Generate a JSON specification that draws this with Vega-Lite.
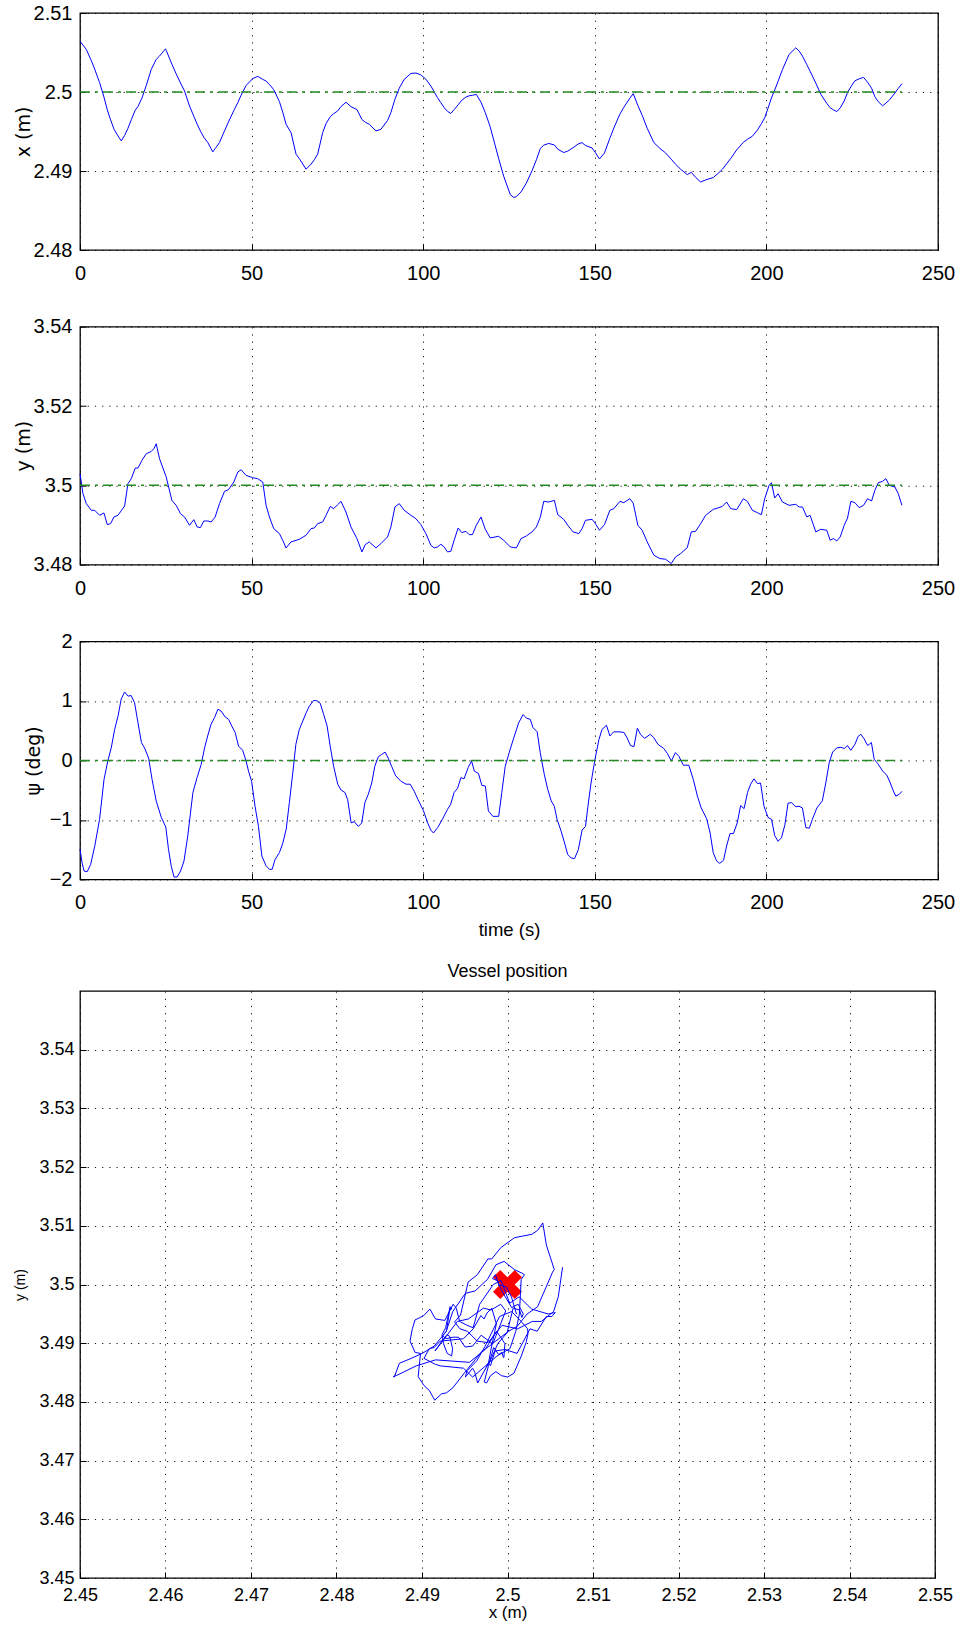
{
"$schema": "https://vega.github.io/schema/vega-lite/v6.json",
"background": "white",
"padding": {"left": 13, "top": 2, "right": 5, "bottom": 3},
"config": {
  "font": "Liberation Sans",
  "view": {"stroke": "#000", "strokeWidth": 1.3},
  "axis": {"grid": true, "gridColor": "#000", "gridDash": [1.2, 6], "gridWidth": 1, "gridOpacity": 0.9,
           "domain": false, "ticks": true, "tickColor": "#000", "tickSize": -6, "tickWidth": 1,
           "labelColor": "#000", "titleColor": "#000", "labelFlush": false, "labelOverlap": false,
           "titleFontWeight": "normal", "labelFont": "Liberation Sans", "titleFont": "Liberation Sans"},
  "concat": {"spacing": 21}
},
"datasets": {
"pos": [
{"t":0,"x":2.50644,"y":3.50294},{"t":0.87,"x":2.50594,"y":3.4979},{"t":1.84,"x":2.50539,"y":3.49539},{"t":3.3,"x":2.50396,"y":3.49371},{"t":4.27,"x":2.50291,"y":3.49371},{"t":5.72,"x":2.50118,"y":3.49245},{"t":6.98,"x":2.49936,"y":3.49304},{"t":7.95,"x":2.49774,"y":3.4901},{"t":8.92,"x":2.49647,"y":3.49035},{"t":9.89,"x":2.49531,"y":3.49203},{"t":11.06,"x":2.49444,"y":3.49245},{"t":12.03,"x":2.49381,"y":3.49362},{"t":13.0,"x":2.49451,"y":3.4948},{"t":13.97,"x":2.4954,"y":3.50042},{"t":14.94,"x":2.49648,"y":3.50168},{"t":16.1,"x":2.49771,"y":3.50436},{"t":16.88,"x":2.49816,"y":3.50436},{"t":18.04,"x":2.49923,"y":3.50629},{"t":19.3,"x":2.50081,"y":3.50797},{"t":20.76,"x":2.50286,"y":3.50856},{"t":21.53,"x":2.50353,"y":3.50923},{"t":22.21,"x":2.50413,"y":3.51049},{"t":23.18,"x":2.50455,"y":3.50671},{"t":24.93,"x":2.50547,"y":3.50255},{"t":25.12,"x":2.50527,"y":3.5021},{"t":26.77,"x":2.50352,"y":3.49622},{"t":28.03,"x":2.50229,"y":3.49497},{"t":29.29,"x":2.50114,"y":3.49287},{"t":30.46,"x":2.50013,"y":3.49203},{"t":31.91,"x":2.49823,"y":3.48993},{"t":33.17,"x":2.49692,"y":3.49136},{"t":34.14,"x":2.49592,"y":3.48951},{"t":35.11,"x":2.49504,"y":3.48935},{"t":36.08,"x":2.49427,"y":3.49102},{"t":37.25,"x":2.4936,"y":3.49102},{"t":38.22,"x":2.49281,"y":3.49077},{"t":38.7,"x":2.49242,"y":3.49129},{"t":39.38,"x":2.49283,"y":3.49203},{"t":40.64,"x":2.4936,"y":3.49539},{"t":42.1,"x":2.49507,"y":3.49849},{"t":43.26,"x":2.49621,"y":3.49891},{"t":44.81,"x":2.49764,"y":3.50084},{"t":45.98,"x":2.49865,"y":3.50336},{"t":46.94,"x":2.4996,"y":3.50394},{"t":48.4,"x":2.50082,"y":3.50252},{"t":50.34,"x":2.5017,"y":3.50193},{"t":51.79,"x":2.50198,"y":3.50168},{"t":53.25,"x":2.5016,"y":3.50084},{"t":54.22,"x":2.50139,"y":3.49497},{"t":55.19,"x":2.50097,"y":3.49203},{"t":56.45,"x":2.50029,"y":3.48909},{"t":58.1,"x":2.49879,"y":3.48784},{"t":59.07,"x":2.49745,"y":3.48616},{"t":60.04,"x":2.49592,"y":3.48423},{"t":61.49,"x":2.49486,"y":3.48574},{"t":62.95,"x":2.49213,"y":3.48614},{"t":63.92,"x":2.49156,"y":3.48641},{"t":65.86,"x":2.49023,"y":3.48742},{"t":67.31,"x":2.49086,"y":3.48909},{"t":68.28,"x":2.49142,"y":3.48926},{"t":69.25,"x":2.49213,"y":3.49035},{"t":70.71,"x":2.49486,"y":3.49077},{"t":71.68,"x":2.49599,"y":3.49245},{"t":72.94,"x":2.49689,"y":3.49471},{"t":73.91,"x":2.49726,"y":3.49413},{"t":75.07,"x":2.4976,"y":3.49513},{"t":76.04,"x":2.49816,"y":3.49597},{"t":77.5,"x":2.4987,"y":3.49329},{"t":78.95,"x":2.49815,"y":3.48951},{"t":80.7,"x":2.49777,"y":3.48658},{"t":82.15,"x":2.49651,"y":3.48322},{"t":83.12,"x":2.49617,"y":3.48507},{"t":84.29,"x":2.49592,"y":3.48574},{"t":86.23,"x":2.49507,"y":3.48423},{"t":87.68,"x":2.49528,"y":3.48532},{"t":89.62,"x":2.49641,"y":3.487},{"t":90.59,"x":2.49739,"y":3.48951},{"t":91.76,"x":2.49907,"y":3.49455},{"t":93.02,"x":2.50048,"y":3.49539},{"t":94.47,"x":2.5016,"y":3.49371},{"t":96.41,"x":2.50235,"y":3.49245},{"t":97.87,"x":2.5024,"y":3.49161},{"t":99.32,"x":2.50217,"y":3.4901},{"t":100.78,"x":2.50162,"y":3.48784},{"t":102.23,"x":2.50076,"y":3.4849},{"t":103.2,"x":2.50002,"y":3.48423},{"t":104.17,"x":2.49928,"y":3.48448},{"t":105.14,"x":2.49865,"y":3.48515},{"t":106.11,"x":2.49802,"y":3.48448},{"t":107.08,"x":2.49755,"y":3.48322},{"t":108.05,"x":2.49728,"y":3.48339},{"t":109.02,"x":2.49777,"y":3.48616},{"t":110.18,"x":2.49838,"y":3.48926},{"t":111.25,"x":2.49896,"y":3.48809},{"t":112.42,"x":2.49935,"y":3.48842},{"t":113.38,"x":2.49952,"y":3.48758},{"t":114.35,"x":2.49958,"y":3.48758},{"t":115.47,"x":2.4997,"y":3.48993},{"t":116.83,"x":2.49872,"y":3.49203},{"t":118.09,"x":2.49739,"y":3.48893},{"t":119.55,"x":2.49555,"y":3.48674},{"t":121.98,"x":2.49159,"y":3.48716},{"t":123.44,"x":2.48935,"y":3.48616},{"t":125.39,"x":2.487,"y":3.48448},{"t":126.4,"x":2.48665,"y":3.48434},{"t":127.14,"x":2.48676,"y":3.48423},{"t":128.5,"x":2.48735,"y":3.48658},{"t":130.06,"x":2.48847,"y":3.48725},{"t":131.71,"x":2.49003,"y":3.48826},{"t":132.98,"x":2.49142,"y":3.48951},{"t":134.14,"x":2.49286,"y":3.49203},{"t":135.12,"x":2.49327,"y":3.49597},{"t":136.58,"x":2.49349,"y":3.49581},{"t":138.23,"x":2.49329,"y":3.49622},{"t":139.2,"x":2.49276,"y":3.49262},{"t":140.95,"x":2.49234,"y":3.49144},{"t":142.12,"x":2.49251,"y":3.48993},{"t":143.68,"x":2.49295,"y":3.48826},{"t":145.33,"x":2.49347,"y":3.48784},{"t":146.3,"x":2.49358,"y":3.48909},{"t":147.28,"x":2.49323,"y":3.49119},{"t":149.22,"x":2.49291,"y":3.49144},{"t":150.19,"x":2.49232,"y":3.49035},{"t":151.36,"x":2.49152,"y":3.48867},{"t":152.82,"x":2.49228,"y":3.4901},{"t":154.38,"x":2.49414,"y":3.49371},{"t":155.54,"x":2.49543,"y":3.49413},{"t":157.3,"x":2.49719,"y":3.49597},{"t":158.46,"x":2.49807,"y":3.49564},{"t":160.21,"x":2.49921,"y":3.49664},{"t":161.2,"x":2.49979,"y":3.4955},{"t":162.55,"x":2.49829,"y":3.48993},{"t":163.81,"x":2.49705,"y":3.48867},{"t":165.27,"x":2.4954,"y":3.48574},{"t":167.22,"x":2.49359,"y":3.48238},{"t":168.97,"x":2.49286,"y":3.48154},{"t":170.62,"x":2.49229,"y":3.48138},{"t":172.28,"x":2.49149,"y":3.48029},{"t":173.54,"x":2.49085,"y":3.48196},{"t":175.0,"x":2.49023,"y":3.4828},{"t":176.95,"x":2.48955,"y":3.48431},{"t":178.11,"x":2.48983,"y":3.48826},{"t":179.38,"x":2.4892,"y":3.48842},{"t":180.84,"x":2.4886,"y":3.49035},{"t":182.3,"x":2.48887,"y":3.49245},{"t":184.53,"x":2.48918,"y":3.49396},{"t":185.89,"x":2.48968,"y":3.4943},{"t":187.16,"x":2.49021,"y":3.49471},{"t":188.42,"x":2.49092,"y":3.49581},{"t":189.59,"x":2.49158,"y":3.49413},{"t":191.34,"x":2.49267,"y":3.49388},{"t":193.29,"x":2.49364,"y":3.49664},{"t":194.46,"x":2.49401,"y":3.49597},{"t":195.91,"x":2.4944,"y":3.49371},{"t":197.37,"x":2.49517,"y":3.49312},{"t":198.54,"x":2.49598,"y":3.49262},{"t":199.51,"x":2.49674,"y":3.49664},{"t":200.78,"x":2.49834,"y":3.5},{"t":201.46,"x":2.49924,"y":3.50067},{"t":202.43,"x":2.50026,"y":3.49681},{"t":203.4,"x":2.50136,"y":3.4979},{"t":204.67,"x":2.50283,"y":3.49581},{"t":206.61,"x":2.50476,"y":3.49497},{"t":208.56,"x":2.50559,"y":3.49522},{"t":209.53,"x":2.50519,"y":3.49455},{"t":210.51,"x":2.50454,"y":3.49455},{"t":211.77,"x":2.50347,"y":3.49203},{"t":212.74,"x":2.50263,"y":3.49245},{"t":214.4,"x":2.50112,"y":3.48826},{"t":215.86,"x":2.49971,"y":3.48893},{"t":217.61,"x":2.49855,"y":3.48867},{"t":218.58,"x":2.49801,"y":3.48616},{"t":219.55,"x":2.49773,"y":3.48658},{"t":220.53,"x":2.49753,"y":3.48599},{"t":221.5,"x":2.49799,"y":3.487},{"t":222.67,"x":2.49886,"y":3.48993},{"t":223.64,"x":2.49995,"y":3.49178},{"t":224.61,"x":2.50066,"y":3.49597},{"t":225.78,"x":2.50142,"y":3.49564},{"t":227.04,"x":2.50167,"y":3.49438},{"t":228.31,"x":2.50185,"y":3.49497},{"t":229.47,"x":2.50124,"y":3.49664},{"t":230.64,"x":2.50049,"y":3.49606},{"t":231.61,"x":2.4994,"y":3.49874},{"t":232.59,"x":2.49878,"y":3.50067},{"t":233.85,"x":2.49825,"y":3.50101},{"t":234.82,"x":2.49859,"y":3.50168},{"t":235.8,"x":2.49897,"y":3.5},{"t":237.45,"x":2.49987,"y":3.49958},{"t":238.42,"x":2.50046,"y":3.4979},{"t":239.49,"x":2.50105,"y":3.49497}
],
"psi": [
{"t":0,"psi":-1.49},{"t":0.6,"psi":-1.72},{"t":1.2,"psi":-1.86},{"t":2.1,"psi":-1.87},{"t":3.1,"psi":-1.75},{"t":4.3,"psi":-1.44},{"t":5.7,"psi":-0.99},{"t":7.0,"psi":-0.32},{"t":8.1,"psi":-0.01},{"t":9.1,"psi":0.21},{"t":10.1,"psi":0.52},{"t":11.1,"psi":0.75},{"t":12.0,"psi":1.03},{"t":13.0,"psi":1.15},{"t":14.0,"psi":1.08},{"t":14.9,"psi":1.09},{"t":15.9,"psi":0.97},{"t":16.9,"psi":0.63},{"t":17.9,"psi":0.3},{"t":18.8,"psi":0.21},{"t":20.0,"psi":0.04},{"t":21.0,"psi":-0.32},{"t":22.2,"psi":-0.68},{"t":23.7,"psi":-0.96},{"t":25.0,"psi":-1.12},{"t":25.8,"psi":-1.5},{"t":26.6,"psi":-1.78},{"t":27.4,"psi":-1.96},{"t":28.3,"psi":-1.96},{"t":29.3,"psi":-1.86},{"t":30.3,"psi":-1.69},{"t":31.4,"psi":-1.27},{"t":32.9,"psi":-0.54},{"t":34.1,"psi":-0.29},{"t":35.3,"psi":-0.07},{"t":36.3,"psi":0.21},{"t":37.2,"psi":0.41},{"t":38.2,"psi":0.61},{"t":39.2,"psi":0.72},{"t":40.2,"psi":0.86},{"t":41.1,"psi":0.83},{"t":42.3,"psi":0.73},{"t":43.3,"psi":0.69},{"t":44.2,"psi":0.58},{"t":45.2,"psi":0.47},{"t":46.2,"psi":0.24},{"t":47.4,"psi":0.17},{"t":48.4,"psi":-0.01},{"t":49.1,"psi":-0.18},{"t":50.0,"psi":-0.35},{"t":51.0,"psi":-0.77},{"t":52.0,"psi":-1.11},{"t":53.0,"psi":-1.61},{"t":54.2,"psi":-1.77},{"t":55.2,"psi":-1.83},{"t":56.0,"psi":-1.83},{"t":56.8,"psi":-1.67},{"t":58.1,"psi":-1.55},{"t":59.1,"psi":-1.39},{"t":60.1,"psi":-1.15},{"t":61.0,"psi":-0.71},{"t":62.0,"psi":-0.21},{"t":62.9,"psi":0.27},{"t":63.9,"psi":0.52},{"t":64.9,"psi":0.66},{"t":65.9,"psi":0.8},{"t":66.8,"psi":0.91},{"t":68.1,"psi":1.01},{"t":69.1,"psi":1.0},{"t":70.0,"psi":0.96},{"t":71.0,"psi":0.77},{"t":72.0,"psi":0.58},{"t":72.9,"psi":0.24},{"t":73.9,"psi":-0.1},{"t":75.1,"psi":-0.4},{"t":76.1,"psi":-0.5},{"t":77.2,"psi":-0.54},{"t":78.0,"psi":-0.66},{"t":79.0,"psi":-1.05},{"t":79.9,"psi":-1.03},{"t":81.1,"psi":-1.11},{"t":82.1,"psi":-1.05},{"t":83.0,"psi":-0.71},{"t":84.0,"psi":-0.57},{"t":85.0,"psi":-0.38},{"t":85.9,"psi":-0.1},{"t":86.9,"psi":0.06},{"t":87.9,"psi":0.1},{"t":88.9,"psi":0.14},{"t":89.8,"psi":0.04},{"t":90.8,"psi":-0.1},{"t":92.0,"psi":-0.26},{"t":93.5,"psi":-0.35},{"t":95.0,"psi":-0.4},{"t":96.2,"psi":-0.4},{"t":97.4,"psi":-0.52},{"t":98.5,"psi":-0.66},{"t":100.1,"psi":-0.85},{"t":101.3,"psi":-1.05},{"t":102.2,"psi":-1.17},{"t":103.0,"psi":-1.22},{"t":104.2,"psi":-1.13},{"t":105.6,"psi":-0.99},{"t":107.1,"psi":-0.82},{"t":108.0,"psi":-0.74},{"t":109.0,"psi":-0.54},{"t":110.0,"psi":-0.47},{"t":111.0,"psi":-0.29},{"t":111.9,"psi":-0.31},{"t":113.1,"psi":-0.12},{"t":114.1,"psi":-0.01},{"t":114.9,"psi":-0.18},{"t":116.1,"psi":-0.22},{"t":117.1,"psi":-0.42},{"t":118.1,"psi":-0.43},{"t":119.0,"psi":-0.85},{"t":120.3,"psi":-0.94},{"t":122.0,"psi":-0.94},{"t":122.9,"psi":-0.54},{"t":123.9,"psi":-0.1},{"t":125.2,"psi":0.16},{"t":126.4,"psi":0.38},{"t":127.8,"psi":0.63},{"t":129.1,"psi":0.77},{"t":130.1,"psi":0.71},{"t":131.2,"psi":0.69},{"t":132.0,"psi":0.55},{"t":133.2,"psi":0.48},{"t":134.1,"psi":0.13},{"t":135.3,"psi":-0.24},{"t":136.3,"psi":-0.49},{"t":137.3,"psi":-0.68},{"t":138.2,"psi":-0.77},{"t":139.0,"psi":-0.99},{"t":140.2,"psi":-1.19},{"t":141.1,"psi":-1.37},{"t":142.1,"psi":-1.58},{"t":143.1,"psi":-1.64},{"t":144.1,"psi":-1.65},{"t":145.2,"psi":-1.5},{"t":146.3,"psi":-1.17},{"t":147.3,"psi":-1.11},{"t":148.0,"psi":-0.77},{"t":148.9,"psi":-0.38},{"t":150.0,"psi":0.0},{"t":151.2,"psi":0.35},{"t":152.1,"psi":0.52},{"t":153.4,"psi":0.59},{"t":154.4,"psi":0.41},{"t":155.5,"psi":0.48},{"t":157.0,"psi":0.48},{"t":158.5,"psi":0.47},{"t":159.4,"psi":0.38},{"t":160.4,"psi":0.25},{"t":161.4,"psi":0.23},{"t":162.4,"psi":0.54},{"t":163.3,"psi":0.44},{"t":164.5,"psi":0.37},{"t":166.2,"psi":0.44},{"t":167.2,"psi":0.38},{"t":168.4,"psi":0.27},{"t":170.1,"psi":0.2},{"t":171.1,"psi":0.12},{"t":172.3,"psi":-0.01},{"t":173.5,"psi":0.13},{"t":174.5,"psi":0.07},{"t":175.8,"psi":-0.08},{"t":177.4,"psi":-0.08},{"t":178.7,"psi":-0.32},{"t":179.9,"psi":-0.6},{"t":181.0,"psi":-0.8},{"t":182.6,"psi":-0.98},{"t":183.6,"psi":-1.22},{"t":184.5,"psi":-1.55},{"t":185.5,"psi":-1.69},{"t":186.4,"psi":-1.73},{"t":187.5,"psi":-1.68},{"t":188.4,"psi":-1.44},{"t":189.4,"psi":-1.23},{"t":190.4,"psi":-1.23},{"t":191.5,"psi":-1.05},{"t":192.5,"psi":-0.76},{"t":193.5,"psi":-0.81},{"t":194.5,"psi":-0.54},{"t":195.4,"psi":-0.4},{"t":196.4,"psi":-0.31},{"t":197.4,"psi":-0.39},{"t":198.3,"psi":-0.38},{"t":199.3,"psi":-0.77},{"t":200.5,"psi":-0.96},{"t":201.5,"psi":-0.99},{"t":202.4,"psi":-1.26},{"t":203.4,"psi":-1.36},{"t":204.4,"psi":-1.3},{"t":205.4,"psi":-1.08},{"t":206.3,"psi":-0.72},{"t":207.3,"psi":-0.71},{"t":208.6,"psi":-0.78},{"t":209.5,"psi":-0.77},{"t":210.5,"psi":-0.8},{"t":211.5,"psi":-1.13},{"t":212.5,"psi":-1.14},{"t":213.4,"psi":-0.99},{"t":214.7,"psi":-0.8},{"t":216.3,"psi":-0.68},{"t":217.3,"psi":-0.38},{"t":218.3,"psi":-0.04},{"t":219.3,"psi":0.14},{"t":220.5,"psi":0.21},{"t":221.7,"psi":0.22},{"t":222.7,"psi":0.2},{"t":223.6,"psi":0.25},{"t":224.6,"psi":0.17},{"t":225.8,"psi":0.27},{"t":226.7,"psi":0.4},{"t":227.5,"psi":0.44},{"t":228.5,"psi":0.36},{"t":229.5,"psi":0.25},{"t":230.6,"psi":0.3},{"t":231.4,"psi":0.02},{"t":232.4,"psi":-0.05},{"t":233.9,"psi":-0.18},{"t":235.1,"psi":-0.25},{"t":236.1,"psi":-0.38},{"t":237.1,"psi":-0.53},{"t":237.7,"psi":-0.6},{"t":238.7,"psi":-0.57},{"t":239.5,"psi":-0.52}
]
},
"vconcat": [
 {
  "spacing": 30.7,
  "vconcat": [
   {
    "width": 858, "height": 237,
    "layer": [
     {"data": {"name": "pos"},
      "mark": {"type": "line", "color": "#0000ff", "strokeWidth": 1},
      "encoding": {
        "x": {"field": "t", "type": "quantitative", "scale": {"domain": [0, 250], "nice": false},
              "axis": {"values": [0,50,100,150,200,250], "title": null, "labelFontSize": 20, "labelPadding": 19.5}},
        "y": {"field": "x", "type": "quantitative", "scale": {"domain": [2.48, 2.51], "nice": false, "zero": false},
              "axis": {"values": [2.48,2.49,2.5,2.51], "format": "~g", "title": "x (m)", "labelFontSize": 20, "labelPadding": 14, "titleFont": "DejaVu Sans", "titleFontSize": 19, "titlePadding": 0}},
        "order": {"field": "t", "type": "quantitative"}
      }},
     {"data": {"values": [{}]},
      "mark": {"type": "rule", "color": "#228b22", "strokeWidth": 1.5, "strokeDash": [10, 5, 3, 5]},
      "encoding": {"x": {"datum": 0}, "x2": {"datum": 239.5}, "y": {"datum": 2.5}}}
    ]
   },
   {
    "width": 858, "height": 238,
    "layer": [
     {"data": {"name": "pos"},
      "mark": {"type": "line", "color": "#0000ff", "strokeWidth": 1},
      "encoding": {
        "x": {"field": "t", "type": "quantitative", "scale": {"domain": [0, 250], "nice": false},
              "axis": {"values": [0,50,100,150,200,250], "title": null, "labelFontSize": 20, "labelPadding": 19.5}},
        "y": {"field": "y", "type": "quantitative", "scale": {"domain": [3.48, 3.54], "nice": false, "zero": false},
              "axis": {"values": [3.48,3.5,3.52,3.54], "format": "~g", "title": "y (m)", "labelFontSize": 20, "labelPadding": 14, "titleFont": "DejaVu Sans", "titleFontSize": 19, "titlePadding": 0}},
        "order": {"field": "t", "type": "quantitative"}
      }},
     {"data": {"values": [{}]},
      "mark": {"type": "rule", "color": "#228b22", "strokeWidth": 1.5, "strokeDash": [10, 5, 3, 5]},
      "encoding": {"x": {"datum": 0}, "x2": {"datum": 239.5}, "y": {"datum": 3.5}}}
    ]
   },
   {
    "width": 858, "height": 238,
    "layer": [
     {"data": {"name": "psi"},
      "mark": {"type": "line", "color": "#0000ff", "strokeWidth": 1},
      "encoding": {
        "x": {"field": "t", "type": "quantitative", "scale": {"domain": [0, 250], "nice": false},
              "axis": {"values": [0,50,100,150,200,250], "title": "time (s)", "labelFontSize": 20, "labelPadding": 19.5, "titleFontSize": 18.5, "titlePadding": 8}},
        "y": {"field": "psi", "type": "quantitative", "scale": {"domain": [-2, 2], "nice": false, "zero": false},
              "axis": {"values": [-2,-1,0,1,2], "format": "~g", "title": "ψ (deg)", "labelFontSize": 20, "labelPadding": 14, "titleFont": "DejaVu Sans", "titleFontSize": 19, "titlePadding": 6}},
        "order": {"field": "t", "type": "quantitative"}
      }},
     {"data": {"values": [{}]},
      "mark": {"type": "rule", "color": "#228b22", "strokeWidth": 1.5, "strokeDash": [10, 5, 3, 5]},
      "encoding": {"x": {"datum": 0}, "x2": {"datum": 239.5}, "y": {"datum": 0}}}
    ]
   }
  ]
 },
 {
  "width": 855, "height": 587,
  "title": {"text": "Vessel position", "fontSize": 18, "fontWeight": "normal", "font": "Liberation Sans", "color": "#000", "offset": 10, "frame": "group", "anchor": "middle"},
  "layer": [
   {"data": {"values": [{"sx": 2.5, "sy": 3.5}]},
    "mark": {"type": "point", "shape": "M-1,-0.5L-0.5,-1L0,-0.5L0.5,-1L1,-0.5L0.5,0L1,0.5L0.5,1L0,0.5L-0.5,1L-1,0.5L-0.5,0Z", "filled": true, "color": "#ff0000", "opacity": 1, "size": 841},
    "encoding": {
      "x": {"field": "sx", "type": "quantitative", "scale": {"domain": [2.45, 2.55], "nice": false, "zero": false},
            "axis": {"values": [2.45,2.46,2.47,2.48,2.49,2.5,2.51,2.52,2.53,2.54,2.55], "format": "~g", "title": "x (m)", "labelFontSize": 18, "labelPadding": 14, "titleFontSize": 17, "titlePadding": 0}},
      "y": {"field": "sy", "type": "quantitative", "scale": {"domain": [3.45, 3.55], "nice": false, "zero": false},
            "axis": {"values": [3.45,3.46,3.47,3.48,3.49,3.5,3.51,3.52,3.53,3.54], "format": "~g", "title": "y (m)", "labelFontSize": 18, "labelPadding": 12, "titleFontSize": 14, "titlePadding": 11}}
    }},
   {"data": {"name": "pos"},
    "mark": {"type": "line", "color": "#0000ff", "strokeWidth": 1},
    "encoding": {
      "x": {"field": "x", "type": "quantitative"},
      "y": {"field": "y", "type": "quantitative"},
      "order": {"field": "t", "type": "quantitative"}
    }}
  ]
 }
]
}
